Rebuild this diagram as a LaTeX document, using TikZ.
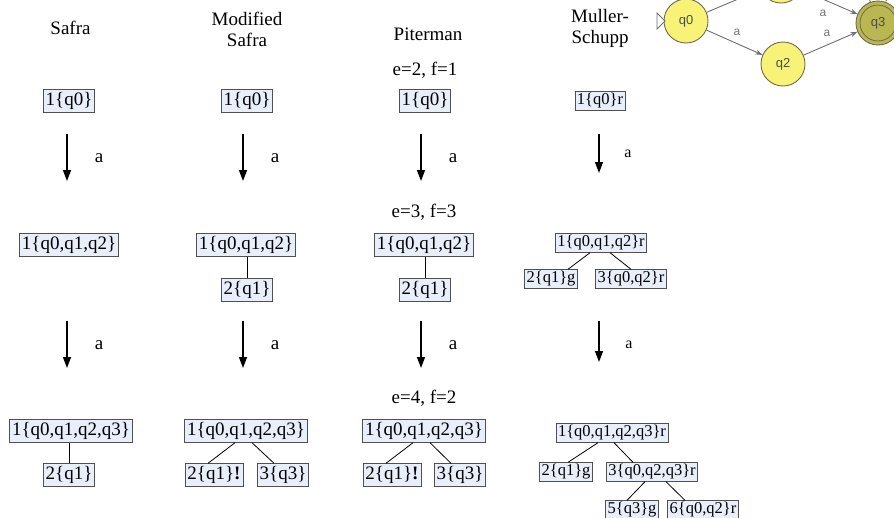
\documentclass[tikz,border=0pt]{standalone}
\usepackage{fontspec}
\setmainfont{Liberation Serif}
\newfontfamily\autfont{Liberation Sans}
\usetikzlibrary{arrows.meta}
\definecolor{boxfill}{RGB}{232,238,250}
\definecolor{boxline}{RGB}{80,80,80}
\definecolor{stateyellow}{RGB}{248,242,118}
\definecolor{stateolive}{RGB}{186,182,82}
\definecolor{stateline}{RGB}{110,108,80}
\definecolor{edgegray}{RGB}{110,110,120}
\tikzset{
  tbox/.style={draw=boxline, fill=boxfill, line width=0.9pt, inner xsep=2.5pt, inner ysep=2.5pt,
               font=\fontsize{19}{22}\selectfont, text height=13pt, text depth=4.5pt},
  msbox/.style={tbox, inner xsep=2pt, inner ysep=1.5pt,
               font=\fontsize{16.5}{19}\selectfont, text height=11.5pt, text depth=4pt},
  flow/.style={-{Triangle[length=11pt,width=8pt]}, line width=1.4pt},
  link/.style={line width=0.8pt},
  head/.style={font=\fontsize{19}{21}\selectfont, align=center, anchor=base, inner sep=0pt},
  lbl/.style={font=\fontsize{19}{21}\selectfont},
  smalllbl/.style={font=\fontsize{16}{18}\selectfont},
  state/.style={circle, draw=stateline, fill=stateyellow, line width=0.9pt, minimum size=44pt,
                inner sep=0pt, font=\autfont\fontsize{13}{14}\selectfont, text=black!70},
  aedge/.style={draw=edgegray, line width=0.9pt, -{Stealth[length=7pt,width=5pt]}},
  alabel/.style={font=\autfont\fontsize{12}{13}\selectfont, text=black!55},
}
\begin{document}
\begin{tikzpicture}[x=1pt,y=-1pt]
\useasboundingbox (0,0) rectangle (894,517);

% ---- small automaton, top right (its upper part lies beyond the frame) ----
\begin{scope}
\clip (0,0) rectangle (894,517);
\node[state] (q0) at (686,21) {q0};
\node[state] (q1) at (781,-19) {};
\node[state] (q2) at (783,64) {q2};
\node[state, fill=stateolive] (q3) at (878,23) {q3};
\draw[stateline, line width=0.8pt] (q3.center) circle (18);
\draw[aedge] (q0) -- (q1);
\draw[aedge] (q1) -- (q3);
\draw[aedge] (q0) -- (q2);
\draw[aedge] (q2) -- (q3);
\draw[aedge] (q3.110) .. controls +(-12,-30) and +(12,-30) .. (q3.70);
\draw[edgegray, line width=0.8pt, fill=white] (657,13) -- (657,29) -- (665,21) -- cycle;
\node[alabel] (l01) at (737,32) {a};
\node[alabel] (l13) at (823,13) {a};
\node[alabel] (l23) at (827,33) {a};
\end{scope}

% ---- column headers (base = baseline of the last line) ----
\node[head] (hS) at (70.5,34) {Safra};
\node[head] (hM) at (247,46) {Modified\\Safra};
\node[head] (hP) at (428,40) {Piterman};
\node[head] (hU) at (600,43) {Muller-\\Schupp};

\node[head] (ef1) at (425,75) {e=2, f=1};
\node[head] (ef2) at (424,217) {e=3, f=3};
\node[head] (ef3) at (424,403) {e=4, f=2};

% ---- Safra ----
\node[tbox] (S1) at (69,101) {1\{q0\}};
\node[tbox] (S2) at (69,245) {1\{q0,q1,q2\}};
\node[tbox] (S3) at (71,431) {1\{q0,q1,q2,q3\}};
\node[tbox] (S3c) at (69,475) {2\{q1\}};
\draw[link] (S3c.north) -- (S3c.north |- S3.south);

% ---- Modified Safra ----
\node[tbox] (M1) at (247,101) {1\{q0\}};
\node[tbox] (M2) at (246,245) {1\{q0,q1,q2\}};
\node[tbox] (M2c) at (247,290) {2\{q1\}};
\draw[link] (M2c.north) -- (M2c.north |- M2.south);
\node[tbox] (M3) at (246,431) {1\{q0,q1,q2,q3\}};
\node[tbox] (M3a) at (214,475) {2\{q1\}\textbf{!}};
\node[tbox] (M3b) at (283,475) {3\{q3\}};
\draw[link] ([xshift=-11pt]M3.south) -- ([xshift=-6pt]M3a.north);
\draw[link] ([xshift=6pt]M3.south) -- ([xshift=-9pt]M3b.north);

% ---- Piterman ----
\node[tbox] (P1) at (425,101) {1\{q0\}};
\node[tbox] (P2) at (424,245) {1\{q0,q1,q2\}};
\node[tbox] (P2c) at (425,290) {2\{q1\}};
\draw[link] (P2c.north) -- (P2c.north |- P2.south);
\node[tbox] (P3) at (424,431) {1\{q0,q1,q2,q3\}};
\node[tbox] (P3a) at (392,475) {2\{q1\}\textbf{!}};
\node[tbox] (P3b) at (460,475) {3\{q3\}};
\draw[link] ([xshift=-11pt]P3.south) -- ([xshift=-6pt]P3a.north);
\draw[link] ([xshift=6pt]P3.south) -- ([xshift=-9pt]P3b.north);

% ---- Muller-Schupp ----
\node[msbox] (U1) at (600,101) {1\{q0\}r};
\node[msbox] (U2) at (601,243) {1\{q0,q1,q2\}r};
\node[msbox] (U2a) at (551,279) {2\{q1\}g};
\node[msbox] (U2b) at (631,279) {3\{q0,q2\}r};
\draw[link] ([xshift=-11pt]U2.south) -- ([xshift=17pt]U2a.north);
\draw[link] ([xshift=9pt]U2.south) -- ([xshift=0pt]U2b.north);
\node[msbox] (U3) at (612,433) {1\{q0,q1,q2,q3\}r};
\node[msbox] (U3a) at (566,472) {2\{q1\}g};
\node[msbox] (U3b) at (652,472) {3\{q0,q2,q3\}r};
\node[msbox] (U3c) at (632,510) {5\{q3\}g};
\node[msbox] (U3d) at (703,510) {6\{q0,q2\}r};
\draw[link] ([xshift=-14pt]U3.south) -- ([xshift=2pt]U3a.north);
\draw[link] ([xshift=2pt]U3.south) -- ([xshift=-19pt]U3b.north);
\draw[link] ([xshift=-7pt]U3b.south) -- ([xshift=-5pt]U3c.north);
\draw[link] ([xshift=14pt]U3b.south) -- ([xshift=-18pt]U3d.north);

% ---- transition arrows ----
\coordinate (aS1) at (67,134);  \coordinate (bS1) at (67,181);
\coordinate (aS2) at (67,321);  \coordinate (bS2) at (67,368);
\coordinate (aM1) at (243,134); \coordinate (bM1) at (243,181);
\coordinate (aM2) at (243,321); \coordinate (bM2) at (243,368);
\coordinate (aP1) at (421,134); \coordinate (bP1) at (421,181);
\coordinate (aP2) at (421,321); \coordinate (bP2) at (421,368);
\coordinate (aU1) at (599,134); \coordinate (bU1) at (599,173);
\coordinate (aU2) at (599,321); \coordinate (bU2) at (599,362);
\foreach \c in {S1,S2,M1,M2,P1,P2,U1,U2} \draw[flow] (a\c) -- (b\c);

\node[lbl] (tS1) at (99,158) {a};
\node[lbl] (tS2) at (99,345) {a};
\node[lbl] (tM1) at (275,158) {a};
\node[lbl] (tM2) at (275,345) {a};
\node[lbl] (tP1) at (453,158) {a};
\node[lbl] (tP2) at (453,345) {a};
\node[smalllbl] (tU1) at (628,154) {a};
\node[smalllbl] (tU2) at (629,345) {a};
\end{tikzpicture}
\end{document}
